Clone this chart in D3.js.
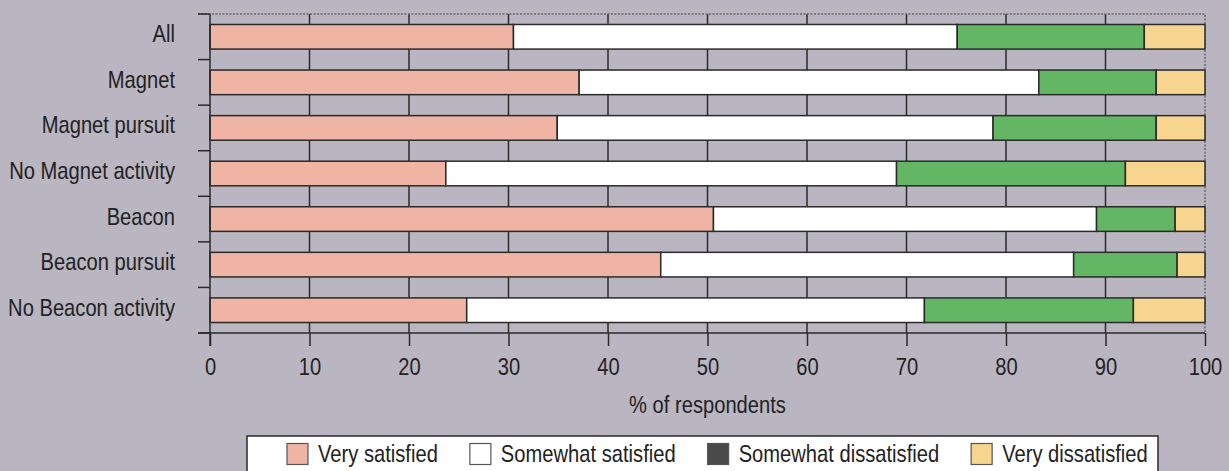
<!DOCTYPE html>
<html>
<head>
<meta charset="utf-8">
<script src="https://cdn.jsdelivr.net/npm/d3@7"></script>
<style>
  body { margin: 0; background: #b9b6c1; }
  svg text { font-family: "Liberation Sans", Arial, sans-serif; fill: #222; }
</style>
</head>
<body>
<div id="chart"></div>
<script>
// categories (top to bottom) and segment shares, % of respondents
const categories = ["All", "Magnet", "Magnet pursuit", "No Magnet activity", "Beacon", "Beacon pursuit", "No Beacon activity"];
const verySatisfied        = [30.5, 37.1, 34.9, 23.7, 50.6, 45.3, 25.8];
const somewhatSatisfied    = [44.6, 46.2, 43.8, 45.3, 38.5, 41.5, 46.0];
const somewhatDissatisfied = [18.8, 11.8, 16.4, 23.0,  7.9, 10.4, 21.0];
const veryDissatisfied     = [ 6.1,  4.9,  4.9,  8.0,  3.0,  2.8,  7.2];
const xTicks = [0, 10, 20, 30, 40, 50, 60, 70, 80, 90, 100];
const seriesKeys = ["Very satisfied", "Somewhat satisfied", "Somewhat dissatisfied", "Very dissatisfied"];

const width = 1229, height = 471;
const barColors = ["#f0b4a4", "#ffffff", "#63b764", "#f8d58e"];
const legendColors = ["#f0b4a4", "#ffffff", "#4a4a4a", "#f8d58e"];
// no condensed face installed, so squeeze the regular one
const squeeze = 0.84;

const rows = categories.map((c, i) => ({
    cat: c,
    "Very satisfied": verySatisfied[i],
    "Somewhat satisfied": somewhatSatisfied[i],
    "Somewhat dissatisfied": somewhatDissatisfied[i],
    "Very dissatisfied": veryDissatisfied[i]
}));

const svg = d3.select("#chart").append("svg")
    .attr("width", width)
    .attr("height", height);

svg.append("rect").attr("width", width).attr("height", height).attr("fill", "#b9b6c1");

const x = d3.scaleLinear().domain([0, 100]).range([210, 1205]);
const y = d3.scaleBand().domain(categories).range([14, 333]).paddingInner(0.46).paddingOuter(0.23);

// vertical grid lines
svg.append("g")
    .selectAll("line")
    .data(xTicks.slice(1, -1))
    .join("line")
    .attr("x1", d => x(d)).attr("x2", d => x(d))
    .attr("y1", 14).attr("y2", 333)
    .attr("stroke", "#2a2a2a")
    .attr("stroke-width", 1.5);

// dotted frame top and right
svg.append("path")
    .attr("d", `M198,14H${x(100)}V333`)
    .attr("fill", "none")
    .attr("stroke", "#666")
    .attr("stroke-width", 1.5)
    .attr("stroke-dasharray", "2,1.5");

// stacked bars
const stacked = d3.stack().keys(seriesKeys)(rows);

svg.append("g")
    .selectAll("g")
    .data(stacked)
    .join("g")
    .attr("fill", (d, i) => barColors[i])
    .selectAll("rect")
    .data(d => d)
    .join("rect")
    .attr("x", d => x(d[0]))
    .attr("width", d => x(d[1]) - x(d[0]))
    .attr("y", d => y(d.data.cat))
    .attr("height", y.bandwidth())
    .attr("stroke", "#2a2a2a")
    .attr("stroke-width", 1.5);

// left axis line and category ticks at band boundaries
const step = y.step();
const bounds = d3.range(categories.length + 1).map(i => 14 + i * step);
svg.append("line")
    .attr("x1", x(0)).attr("x2", x(0))
    .attr("y1", 14).attr("y2", 346)
    .attr("stroke", "#2a2a2a").attr("stroke-width", 1.5);
svg.append("g")
    .selectAll("line")
    .data(bounds)
    .join("line")
    .attr("x1", 198).attr("x2", x(0))
    .attr("y1", d => d).attr("y2", d => d)
    .attr("stroke", "#2a2a2a").attr("stroke-width", 1.5);

svg.append("g")
    .selectAll("text")
    .data(categories)
    .join("text")
    .attr("transform", d => `translate(175,${y(d) + y.bandwidth() / 2 + 5.5}) scale(${squeeze},1)`)
    .attr("text-anchor", "end")
    .style("font-size", "24px")
    .text(d => d);

// bottom axis
const xAxis = svg.append("g")
    .attr("transform", "translate(0,333)")
    .call(d3.axisBottom(x).tickValues(xTicks).tickSize(13).tickPadding(12).tickSizeOuter(0));
xAxis.select(".domain").remove();
xAxis.selectAll(".tick line").attr("stroke", "#2a2a2a").attr("stroke-width", 1.5);
xAxis.selectAll(".tick text")
    .style("font-size", "24px")
    .attr("fill", "#222")
    .attr("transform", `scale(${squeeze},1)`);
svg.append("line")
    .attr("x1", 198).attr("x2", x(100))
    .attr("y1", 333).attr("y2", 333)
    .attr("stroke", "#2a2a2a").attr("stroke-width", 1.5);

svg.append("text")
    .attr("transform", `translate(${x(50)},413) scale(${squeeze},1)`)
    .attr("text-anchor", "middle")
    .style("font-size", "24px")
    .text("% of respondents");

// legend
svg.append("rect")
    .attr("x", 247).attr("y", 436)
    .attr("width", 911).attr("height", 50)
    .attr("fill", "#fff")
    .attr("stroke", "#2a2a2a").attr("stroke-width", 1.5);

let lx = 287;
seriesKeys.forEach((k, i) => {
    svg.append("rect")
        .attr("x", lx).attr("y", 443.5)
        .attr("width", 21).attr("height", 21)
        .attr("fill", legendColors[i])
        .attr("stroke", "#555").attr("stroke-width", 1.2);
    const t = svg.append("text")
        .attr("transform", `translate(${lx + 31},462) scale(${squeeze},1)`)
        .style("font-size", "24px")
        .text(k);
    lx += 31 + t.node().getComputedTextLength() * squeeze + 32;
});
</script>
</body>
</html>
